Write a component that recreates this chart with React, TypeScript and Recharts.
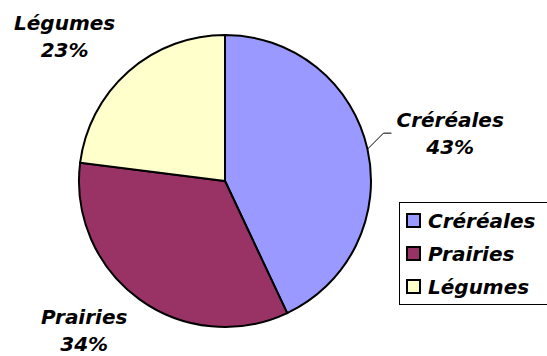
import { PieChart, Pie, Cell, Legend } from "recharts";

const categories = ["Créréales", "Prairies", "Légumes"];
const shares = [43, 34, 23];
const colors = ["#9999FF", "#993366", "#FFFFCC"];
const leaderSlices = ["Créréales"];

const data = categories.map((name, i) => ({ name, value: shares[i] }));

const FONT = "italic bold 20px 'DejaVu Sans'";
const RAD = Math.PI / 180;

// measure text width with a canvas so labels can be centred like Excel does
function textWidth(s: string) {
  const ctx = document.createElement("canvas").getContext("2d");
  if (!ctx) return s.length * 12;
  ctx.font = FONT;
  return ctx.measureText(s).width;
}

const textStyle = {
  fontFamily: "'DejaVu Sans', Verdana, sans-serif",
  fontSize: 20,
  fontWeight: "bold" as const,
  fontStyle: "italic" as const,
  fill: "#000",
};

function renderLabel(props: any) {
  const { cx, cy, midAngle, outerRadius, name, percent } = props;
  const cos = Math.cos(-midAngle * RAD);
  const sin = Math.sin(-midAngle * RAD);
  const pct = `${Math.round(percent * 100)}%`;
  const w = Math.max(textWidth(name), textWidth(pct));

  if (leaderSlices.includes(name)) {
    // label dragged away from the pie, joined by a leader line
    const ex = cx + outerRadius * cos;
    const ey = cy + outerRadius * sin;
    const kx = ex + 16;
    const ky = ey - 16;
    const hx = kx + 8;
    const left = kx + 13;
    const mx = left + w / 2;
    return (
      <g>
        <polyline points={`${ex},${ey} ${kx},${ky} ${hx},${ky}`} fill="none" stroke="#000" strokeWidth={1} />
        <text x={mx} y={ky - 6.5} textAnchor="middle" style={textStyle}>
          <tspan x={mx} y={ky - 6.5}>{name}</tspan>
          <tspan x={mx} y={ky + 20.5}>{pct}</tspan>
        </text>
      </g>
    );
  }

  const r = outerRadius + 20;
  const ax = cx + r * cos;
  const ay = cy + r * sin;
  const mx = ax + Math.sign(cos) * (w / 2);
  const y0 = ay - 9.5 + 23 * sin;
  return (
    <text x={mx} y={y0} textAnchor="middle" style={textStyle}>
      <tspan x={mx} y={y0}>{name}</tspan>
      <tspan x={mx} y={y0 + 27}>{pct}</tspan>
    </text>
  );
}

function renderLegend(props: any) {
  const payload = [...(props.payload || [])].sort(
    (a: any, b: any) => categories.indexOf(a.value) - categories.indexOf(b.value)
  );
  return (
    <div
      style={{
        border: "1px solid #000",
        paddingTop: 1,
        paddingBottom: 1,
        paddingLeft: 6,
        width: 160,
        boxSizing: "border-box",
        background: "#fff",
      }}
    >
      {payload.map((entry: any) => (
        <div key={entry.value} style={{ display: "flex", alignItems: "center", height: 33 }}>
          <span
            style={{
              display: "inline-block",
              width: 15,
              height: 15,
              boxSizing: "border-box",
              border: "2px solid #000",
              background: colors[categories.indexOf(entry.value)] ?? entry.color,
              marginRight: 7,
            }}
          />
          <span
            style={{
              fontFamily: "'DejaVu Sans', Verdana, sans-serif",
              fontSize: 20,
              fontWeight: "bold",
              fontStyle: "italic",
              color: "#000",
              lineHeight: "20px",
            }}
          >
            {entry.value}
          </span>
        </div>
      ))}
    </div>
  );
}

export default function App() {
  return (
    <div style={{ position: "fixed", left: 0, top: 0, width: 547, height: 356, overflow: "hidden", background: "#fff" }}>
      <PieChart width={547} height={356} margin={{ top: 0, right: 0, bottom: 0, left: 0 }}>
        <Pie
          data={data}
          dataKey="value"
          nameKey="name"
          cx={225}
          cy={181}
          outerRadius={146}
          startAngle={90}
          endAngle={-270}
          stroke="#000"
          strokeWidth={2}
          label={renderLabel}
          labelLine={false}
          isAnimationActive={false}
        >
          {data.map((d, i) => (
            <Cell key={d.name} fill={colors[i]} />
          ))}
        </Pie>
        <Legend
          layout="vertical"
          align="right"
          verticalAlign="top"
          content={renderLegend}
          wrapperStyle={{ position: "absolute", left: 399, top: 202, width: 160 }}
        />
      </PieChart>
    </div>
  );
}
